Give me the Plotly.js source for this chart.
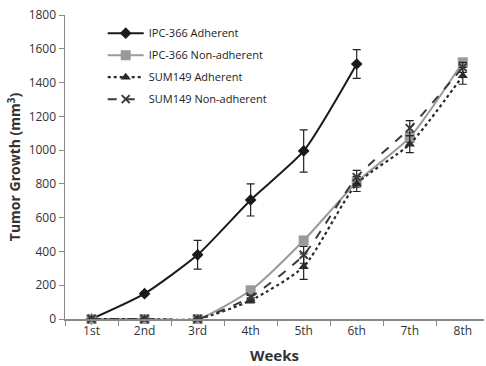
<!DOCTYPE html>
<html><head><meta charset="utf-8">
<script src="https://cdn.plot.ly/plotly-3.0.1.min.js"></script>
<style>html,body{margin:0;padding:0;background:#fff}#chart{width:486px;height:366px}</style>
</head><body><div id="chart"></div>
<script>
const weeks = ["1st","2nd","3rd","4th","5th","6th","7th","8th"];
const ipcAdhWeeks = ["1st","2nd","3rd","4th","5th","6th"];
const ipcAdh = [0,150,380,705,995,1510];
const ipcAdhErr = [0,8,85,95,125,85];
const ipcNon = [0,0,0,170,465,810,1075,1520];
const ipcNonErr = [0,0,0,15,20,30,30,20];
const sumAdh = [0,0,0,110,310,800,1035,1440];
const sumAdhErr = [0,0,0,15,75,45,50,50];
const sumNon = [0,0,0,130,380,840,1130,1490];
const sumNonErr = [0,0,0,10,50,40,45,30];
const names = ["IPC-366 Adherent","IPC-366 Non-adherent","SUM149 Adherent","SUM149 Non-adherent"];

function tr(x, y, err, name, color, dash, symbol, msize, width, grp){
  return {x:x, y:y, name:name, type:"scatter", mode:"lines+markers", legendgroup:grp, cliponaxis:false,
    line:{color:color, width:width, dash:dash, shape:"spline", smoothing:0.6},
    marker:{symbol:symbol, size:msize, color:color, line:{color:color, width:symbol==="x-thin"?2:0}},
    error_y:{type:"data", array:err, visible:true, color:"#222", thickness:1.2, width:4}};
}
const data = [
  tr(ipcAdhWeeks, ipcAdh, ipcAdhErr, names[0], "#1a1a1a", "solid", "diamond", 9, 2, "a"),
  tr(weeks, ipcNon, ipcNonErr, names[1], "#9a9a9a", "solid", "square", 10, 2, "b"),
  tr(weeks, sumAdh, sumAdhErr, names[2], "#2a2a2a", "dot", "triangle-up", 9, 2.2, "c"),
  tr(weeks, sumNon, sumNonErr, names[3], "#3a3a3a", "dash", "x-thin", 8, 2, "d")
];
const layout = {
  width:486, height:366,
  margin:{l:65, r:2, t:15, b:47},
  paper_bgcolor:"#fff", plot_bgcolor:"#fff",
  font:{family:"Open Sans, sans-serif", size:12, color:"#333"},
  showlegend:true,
  legend:{x:0.09, y:0.988, xanchor:"left", yanchor:"top", bgcolor:"rgba(0,0,0,0)",
    font:{size:11, color:"#222"}, tracegroupgap:3, itemwidth:36},
  xaxis:{type:"category", categoryorder:"array", categoryarray:weeks,
    range:[-0.5, 7.4], tickson:"boundaries", ticks:"outside", ticklen:5, tickcolor:"#888",
    showline:true, linecolor:"#888", linewidth:1.5, showgrid:false, zeroline:false,
    tickfont:{size:12, color:"#333"},
    title:{text:"<b>Weeks</b>", font:{size:15, color:"#333"}, standoff:12}},
  yaxis:{range:[0,1800], tickvals:[0,200,400,600,800,1000,1200,1400,1600,1800],
    ticks:"outside", ticklen:5, tickcolor:"#888", showline:true, linecolor:"#888", linewidth:1.5,
    showgrid:false, zeroline:false, tickfont:{size:12, color:"#333"},
    title:{text:"<b>Tumor Growth (mm<sup>3</sup>)</b>", font:{size:14, color:"#333"}, standoff:4}}
};
Plotly.newPlot("chart", data, layout, {displayModeBar:false, staticPlot:true});
</script></body></html>
